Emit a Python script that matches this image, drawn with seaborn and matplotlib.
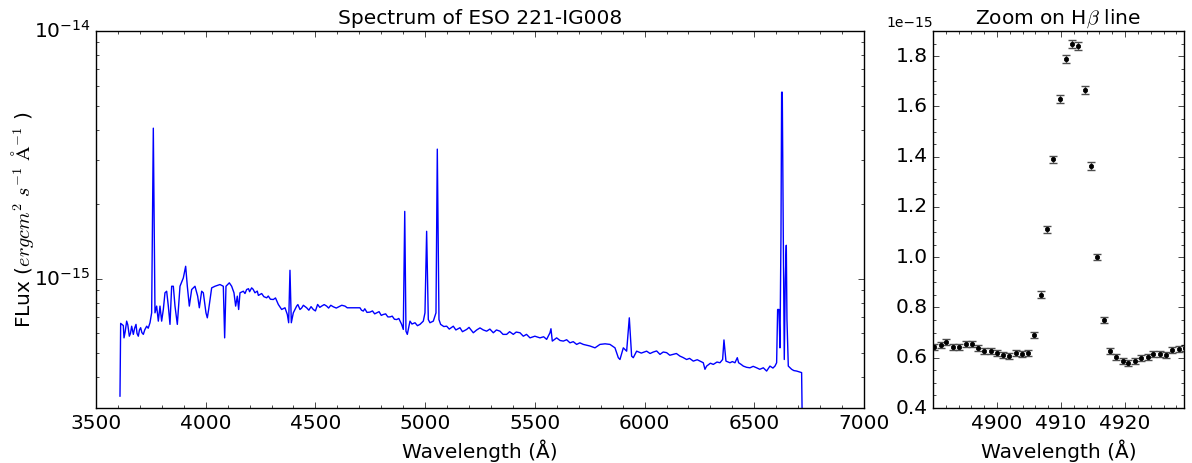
import numpy as np
import matplotlib
matplotlib.use("Agg")
import matplotlib.pyplot as plt
import seaborn as sns
from matplotlib.ticker import MultipleLocator, FixedLocator, ScalarFormatter

# ---- full spectrum, in three pieces (wavelength in Angstrom, flux in 1e-16 erg/cm2/s/A) ----
wave_a = [3609.3, 3612.4, 3624.5, 3627.6, 3633.0, 3639.7, 3645.0, 3651.9, 3657.0, 3662.5,
          3670.1, 3676.0, 3682.3, 3687.0, 3692.9, 3698.0, 3703.5, 3709.0, 3715.7, 3722.0,
          3730.9, 3738.0, 3746.1, 3753.6, 3761.2, 3768.8, 3776.4, 3784.0, 3791.6, 3799.2,
          3806.8, 3814.4, 3822.0, 3829.6, 3837.2, 3844.8, 3852.4, 3860.0, 3870.6, 3882.8,
          3898.0, 3908.6, 3916.2, 3925.3, 3936.0, 3951.1, 3963.3, 3970.9, 3981.5, 3989.1,
          4001.2, 4007.3, 4013.4, 4027.1, 4042.3, 4065.0, 4080.2, 4086.3, 4092.4, 4107.6,
          4118.2, 4128.8, 4136.4, 4144.0, 4150.1, 4156.2, 4171.4, 4179.0, 4186.6, 4195.0,
          4200.0, 4209.3, 4216.0, 4224.5, 4235.0, 4240.0, 4247.3, 4255.0, 4265.0, 4277.7,
          4285.0, 4295.0, 4308.1, 4318.0, 4330.9, 4346.1, 4361.2, 4371.9, 4378.0, 4384.0,
          4390.1, 4399.2]
flux_a = [3.35, 6.59, 6.46, 5.76, 6.10, 6.73, 6.50, 5.85, 6.00, 6.42,
          5.95, 6.30, 6.53, 6.00, 5.85, 6.20, 6.33, 6.05, 5.95, 6.20,
          6.42, 6.30, 6.63, 7.27, 40.5, 7.27, 7.74, 6.73, 7.74, 6.73,
          7.50, 8.76, 8.89, 7.74, 6.53, 9.31, 9.31, 7.74, 6.53, 9.31,
          10.06, 11.21, 9.31, 7.74, 9.03, 9.31, 8.49, 7.62, 8.89, 8.76,
          7.27, 6.94, 7.50, 9.17, 9.31, 9.46, 9.31, 5.76, 9.31, 9.61,
          9.31, 8.76, 7.74, 8.49, 7.50, 8.76, 8.89, 8.70, 9.03, 9.10,
          8.85, 9.17, 9.05, 8.76, 8.90, 8.55, 8.62, 8.70, 8.45, 8.36,
          8.50, 8.25, 8.23, 8.35, 7.86, 7.50, 7.62, 7.16, 6.63, 10.80,
          6.63, 7.27]

wave_b = [4405.0, 4414.4, 4420.0, 4429.6, 4437.0, 4445.0, 4460.0, 4470.0, 4480.0, 4490.4,
          4500.0, 4510.0, 4520.0, 4528.3, 4540.0, 4551.1, 4560.0, 4570.0, 4581.5, 4595.0,
          4611.9, 4620.0, 4634.7, 4645.0, 4703.0, 4710.0, 4718.2, 4725.0, 4735.0, 4748.6,
          4760.0, 4770.0, 4779.0, 4790.0, 4800.0, 4809.4, 4820.0, 4830.0, 4839.7, 4850.0,
          4860.0, 4870.1, 4880.0, 4892.9, 4900.5, 4907.0, 4912.6, 4918.7, 4930.9, 4940.0,
          4953.7, 4965.0, 4976.4, 4991.6, 4999.2, 5006.8, 5014.4, 5022.0, 5037.2, 5049.4,
          5055.4, 5063.0, 5070.6, 5085.0, 5098.0, 5110.0, 5128.3, 5140.0, 5158.7, 5170.0,
          5189.1, 5200.0, 5219.5, 5235.0]
flux_b = [7.45, 7.74, 7.85, 7.50, 7.60, 7.80, 7.62, 7.45, 7.70, 7.50,
          7.40, 7.86, 7.65, 7.74, 7.85, 7.74, 7.60, 7.80, 7.69, 7.60,
          7.74, 7.80, 7.74, 7.62, 7.62, 7.45, 7.39, 7.55, 7.30, 7.32,
          7.40, 7.20, 7.27, 7.35, 7.10, 7.16, 7.20, 7.00, 7.00, 7.05,
          6.85, 6.83, 6.90, 6.53, 6.23, 18.68, 6.13, 5.95, 6.73, 6.55,
          6.63, 6.45, 6.53, 6.73, 7.27, 15.52, 6.83, 6.63, 6.73, 7.27,
          33.33, 6.83, 6.53, 6.40, 6.42, 6.25, 6.42, 6.20, 6.33, 6.10,
          6.23, 6.35, 6.04, 6.20]

wave_c = [5249.9, 5265.0, 5280.3, 5295.0, 5310.7, 5325.0, 5341.0, 5355.0, 5371.4, 5385.0,
          5401.8, 5415.0, 5432.2, 5447.4, 5462.0, 5477.8, 5500.0, 5523.3, 5540.0, 5553.7,
          5568.9, 5573.4, 5579.5, 5599.3, 5615.0, 5629.7, 5645.0, 5660.0, 5675.0, 5690.4,
          5705.0, 5720.8, 5751.2, 5774.0, 5796.7, 5820.0, 5842.3, 5865.1, 5880.3, 5887.9,
          5903.1, 5918.3, 5930.4, 5941.0, 5948.6, 5963.8, 5985.0, 6009.4, 6025.0, 6039.8,
          6055.0, 6070.2, 6085.0, 6100.5, 6115.0, 6130.9, 6145.0, 6161.3, 6175.0, 6191.7,
          6205.0, 6222.1, 6240.0, 6252.4, 6267.6, 6275.2, 6282.8, 6300.0, 6313.2, 6330.0,
          6343.6, 6355.7, 6361.8, 6370.9, 6389.2, 6400.0, 6411.9, 6422.6, 6428.6, 6440.0,
          6449.9, 6465.0, 6480.3, 6495.0, 6510.7, 6525.0, 6541.1, 6556.2, 6571.4, 6585.0,
          6594.2, 6601.8, 6606.4, 6612.4, 6617.0, 6621.6, 6624.6, 6627.6, 6632.2, 6636.7,
          6641.3, 6645.9, 6648.9, 6655.0, 6670.2, 6680.0, 6693.0, 6705.0, 6715.7, 6718.8]
flux_c = [6.32, 6.20, 6.13, 6.25, 6.04, 6.20, 6.13, 5.95, 5.95, 6.10,
          5.95, 6.08, 6.04, 5.85, 5.95, 5.76, 5.85, 5.76, 5.82, 5.68,
          6.04, 6.27, 5.59, 5.76, 5.62, 5.59, 5.66, 5.50, 5.56, 5.42,
          5.50, 5.42, 5.34, 5.25, 5.42, 5.45, 5.42, 5.25, 4.79, 4.71,
          5.25, 5.09, 6.94, 4.86, 4.79, 5.09, 5.00, 5.09, 4.98, 5.05,
          5.10, 4.94, 5.05, 5.02, 4.90, 4.94, 4.98, 4.86, 4.80, 4.71,
          4.76, 4.64, 4.70, 4.64, 4.57, 4.30, 4.43, 4.55, 4.50, 4.60,
          4.57, 4.71, 5.65, 4.64, 4.57, 4.62, 4.57, 4.79, 4.57, 4.50,
          4.43, 4.38, 4.36, 4.42, 4.36, 4.30, 4.36, 4.23, 4.43, 4.35,
          4.43, 4.57, 7.50, 7.50, 5.25, 14.82, 56.58, 56.58, 14.82, 4.71,
          9.91, 13.63, 6.83, 4.43, 4.30, 4.25, 4.23, 4.20, 4.17, 2.5]

# ---- H-beta zoom (wavelength in Angstrom, flux in 1e-15) ----
hb_wave = [4890.2, 4891.2, 4892.1, 4893.1, 4894.1, 4895.1, 4896.1, 4897.0, 4898.0, 4899.0,
           4900.0, 4900.9, 4901.9, 4902.9, 4903.9, 4904.9, 4905.8, 4906.8, 4907.8, 4908.8,
           4909.8, 4910.8, 4911.7, 4912.7, 4913.7, 4914.7, 4915.6, 4916.7, 4917.6, 4918.6,
           4919.6, 4920.5, 4921.5, 4922.5, 4923.5, 4924.4, 4925.4, 4926.4, 4927.4, 4928.4,
           4929.4]
hb_flux_e15 = [0.642, 0.652, 0.661, 0.642, 0.642, 0.655, 0.655, 0.638, 0.628, 0.628,
               0.618, 0.612, 0.608, 0.618, 0.615, 0.619, 0.692, 0.851, 1.111, 1.389,
               1.629, 1.788, 1.849, 1.841, 1.667, 1.362, 1.000, 0.752, 0.626, 0.602,
               0.588, 0.578, 0.588, 0.598, 0.604, 0.615, 0.615, 0.612, 0.631, 0.634,
               0.638]
hb_err_e15 = [0.012, 0.012, 0.012, 0.012, 0.012, 0.012, 0.012, 0.012, 0.012, 0.012,
              0.012, 0.012, 0.012, 0.012, 0.012, 0.012, 0.012, 0.013, 0.014, 0.015,
              0.016, 0.016, 0.017, 0.017, 0.016, 0.015, 0.013, 0.012, 0.012, 0.012,
              0.012, 0.012, 0.012, 0.012, 0.012, 0.012, 0.012, 0.012, 0.012, 0.012,
              0.012]

plt.style.use("classic")
FS = 14.5
plt.rcParams.update({
    "font.size": FS,
    "figure.facecolor": "white",
    "savefig.facecolor": "white",
    "axes.facecolor": "white",
})

wave_arr = np.array(wave_a + wave_b + wave_c)
flux_arr = np.array(flux_a + flux_b + flux_c) * 1e-16
hbw = np.array(hb_wave)
hbf = np.array(hb_flux_e15) * 1e-15
hbe = np.array(hb_err_e15) * 1e-15

fig = plt.figure(figsize=(11.92, 4.63), dpi=100)
ax1 = fig.add_axes([96 / 1192, 1 - 408 / 463, (864 - 96) / 1192, (408 - 31) / 463])
ax2 = fig.add_axes([933 / 1192, 1 - 408 / 463, (1184 - 933) / 1192, (408 - 31) / 463])

sns.lineplot(x=wave_arr, y=flux_arr, ax=ax1, sort=False, estimator=None,
             color="#0000ff", linewidth=1.0)
ax1.set_yscale("log")
ax1.set_xlim(3500, 7000)
ax1.set_ylim(3e-16, 1e-14)
ax1.xaxis.set_minor_locator(MultipleLocator(100))
ax1.set_title("Spectrum of ESO 221-IG008", fontsize=FS)
ax1.set_xlabel("Wavelength (Å)", fontsize=FS)
ax1.set_ylabel(r"FLux ($erg cm^2\ s^{-1}\ \mathrm{\AA}^{-1}$ )", fontsize=FS)
ax1.yaxis.set_label_coords(-0.078, 0.5)

ax2.errorbar(hbw, hbf, yerr=hbe, fmt="none", ecolor="0.3", elinewidth=1.0,
             capsize=3, capthick=1.0)
sns.scatterplot(x=hbw, y=hbf, ax=ax2, color="black", s=10, marker="o",
                edgecolor="black", linewidth=0.5, zorder=3)
ax2.set_xlim(4890.0, 4929.2)
ax2.set_ylim(0.4e-15, 1.9e-15)
ax2.xaxis.set_major_locator(FixedLocator([4900, 4910, 4920]))
ax2.xaxis.set_major_formatter(ScalarFormatter(useOffset=False))
ax2.xaxis.set_minor_locator(MultipleLocator(2))
ax2.yaxis.set_major_locator(MultipleLocator(0.2e-15))
ax2.yaxis.set_minor_locator(MultipleLocator(0.05e-15))
off = ax2.yaxis.get_offset_text()
off.set_fontsize(10)
off.set_horizontalalignment("right")
ax2.set_title(r"Zoom on H$\beta$ line", fontsize=FS)
ax2.set_xlabel("Wavelength (Å)", fontsize=FS)

for ax in (ax1, ax2):
    ax.tick_params(which="both", direction="in", top=True, right=True, labelsize=FS)

fig.savefig("out.png", dpi=100)
